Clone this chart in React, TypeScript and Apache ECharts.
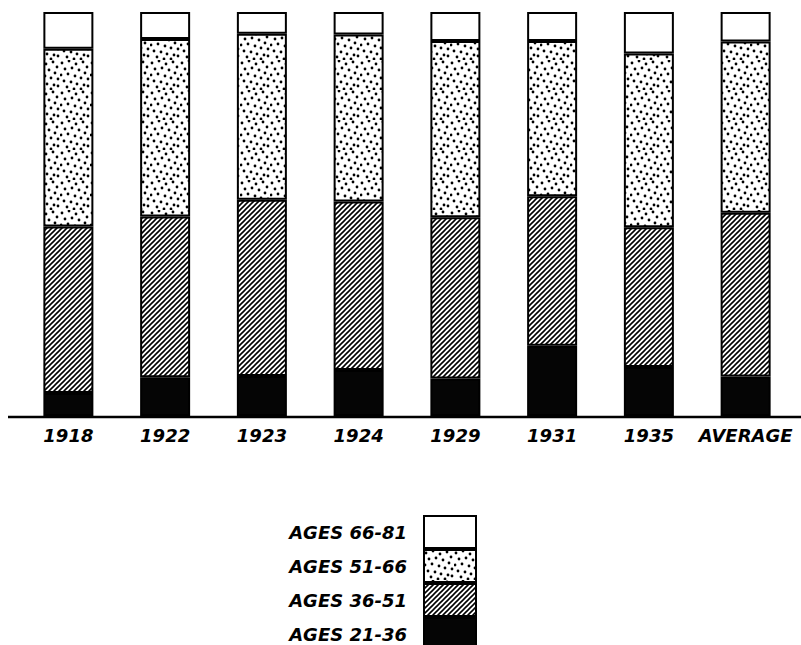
import React, { useEffect, useRef } from "react";
import * as echarts from "echarts";

const categories = ["1918", "1922", "1923", "1924", "1929", "1931", "1935", "AVERAGE"];
const seriesNames = ["AGES 21-36", "AGES 36-51", "AGES 51-66", "AGES 66-81"];
const ages21to36 = [5.7, 9.6, 9.9, 11.4, 9.3, 17.4, 12.1, 9.8];
const ages36to51 = [41.2, 39.8, 43.6, 41.7, 39.9, 37.0, 34.6, 40.5];
const ages51to66 = [44.0, 43.9, 41.1, 41.3, 43.6, 38.4, 43.0, 42.4];
const ages66to81 = [9.1, 6.7, 5.4, 5.6, 7.2, 7.2, 10.3, 7.3];

const dotTile: number[][] = [
  [2, 3], [9, 1], [16, 4], [23, 2], [27, 7], [5, 9], [12, 8], [19, 10], [25, 13],
  [1, 15], [8, 14], [15, 16], [21, 18], [28, 19], [4, 21], [11, 22], [17, 24],
  [24, 25], [7, 27], [14, 29], [21, 29], [28, 26],
];

function svgUrl(svg: string) {
  return "data:image/svg+xml;charset=utf-8," + encodeURIComponent(svg);
}

export default function App() {
  const ref = useRef<HTMLDivElement>(null);
  useEffect(() => {
    if (!ref.current) return;
    const chart = echarts.init(ref.current, null, { renderer: "svg" });

    const hatchSvg =
      '<svg xmlns="http://www.w3.org/2000/svg" width="5" height="5" viewBox="0 0 5 5">' +
      '<rect width="5" height="5" fill="#fff"/>' +
      '<path d="M-1,1 L1,-1 M0,5 L5,0 M4,6 L6,4" stroke="#000" stroke-width="1.6"/></svg>';
    const dotsSvg =
      '<svg xmlns="http://www.w3.org/2000/svg" width="30" height="30" viewBox="0 0 30 30">' +
      '<rect width="30" height="30" fill="#fff"/>' +
      dotTile.map(([x, y]) => `<circle cx="${x}" cy="${y}" r="1.4" fill="#000"/>`).join("") +
      "</svg>";

    const hatch = { image: svgUrl(hatchSvg), repeat: "repeat", imageWidth: 5, imageHeight: 5 };
    const dots = { image: svgUrl(dotsSvg), repeat: "repeat", imageWidth: 30, imageHeight: 30 };
    const fills: any[] = ["#050505", hatch, dots, "#ffffff"];
    const values = [ages21to36, ages36to51, ages51to66, ages66to81];

    const font = {
      fontFamily: "DejaVu Sans",
      fontStyle: "italic",
      fontWeight: "bold",
      color: "#000",
    };

    chart.setOption({
      animation: false,
      backgroundColor: "#fff",
      grid: { left: 20, right: 7, top: 12, bottom: 229 },
      xAxis: {
        type: "category",
        data: categories,
        axisLine: { show: false },
        axisTick: { show: false },
        axisLabel: { ...font, fontSize: 18, margin: 10, interval: 0 },
      },
      yAxis: { type: "value", min: 0, max: 100, show: false },
      legend: {
        data: [seriesNames[3], seriesNames[2], seriesNames[1], seriesNames[0]],
        orient: "vertical",
        align: "right",
        right: 324,
        top: 515,
        height: 160,
        padding: 0,
        itemGap: 0,
        itemWidth: 52,
        itemHeight: 32,
        icon: "rect",
        selectedMode: false,
        itemStyle: { borderColor: "#000", borderWidth: 2 },
        textStyle: { ...font, fontSize: 18, padding: [0, 12, 0, 0] },
      },
      graphic: [
        {
          type: "line",
          shape: { x1: 8, y1: 417, x2: 801, y2: 417 },
          style: { stroke: "#000", lineWidth: 2.5 },
          z: 10,
        },
      ],
      series: seriesNames.map((name, i) => ({
        name,
        type: "bar",
        stack: "total",
        barWidth: 50,
        data: values[i],
        itemStyle: { color: fills[i], borderColor: "#000", borderWidth: 2 },
        emphasis: { disabled: true },
      })),
    });
    return () => chart.dispose();
  }, []);
  return (
    <div
      ref={ref}
      style={{ position: "absolute", left: 0, top: 0, width: 801, height: 645 }}
    />
  );
}
